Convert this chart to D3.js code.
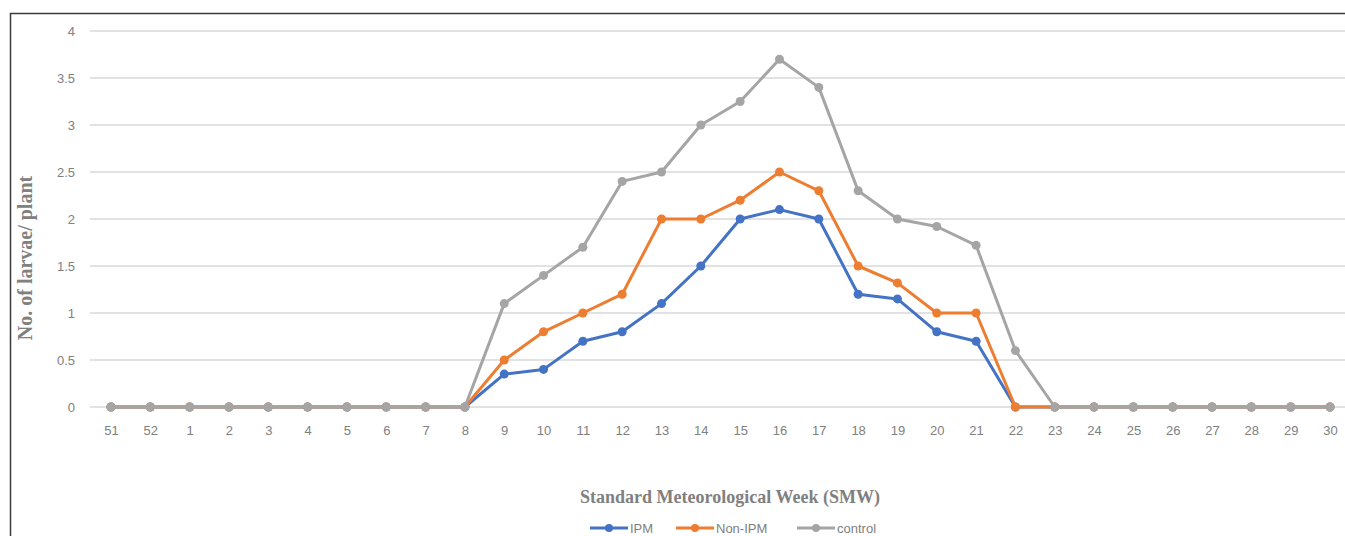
<!DOCTYPE html>
<html>
<head>
<meta charset="utf-8">
<script src="https://cdn.jsdelivr.net/npm/d3@7"></script>
<style>
  body { margin: 0; background: #fff; }
  #chart { width: 1345px; height: 536px; }
</style>
</head>
<body>
<div id="chart"></div>
<script>

// week labels
var weeks = ["51", "52", "1", "2", "3", "4", "5", "6", "7", "8", "9", "10", "11", "12", "13", "14",
    "15", "16", "17", "18", "19", "20", "21", "22", "23", "24", "25", "26", "27", "28", "29", "30"];

var ipm = [0, 0, 0, 0, 0, 0, 0, 0, 0, 0, 0.35, 0.4, 0.7, 0.8, 1.1, 1.5,
    2.0, 2.1, 2.0, 1.2, 1.15, 0.8, 0.7, 0, 0, 0, 0, 0, 0, 0, 0, 0];
var nonIpm = [0, 0, 0, 0, 0, 0, 0, 0, 0, 0, 0.5, 0.8, 1.0, 1.2, 2.0, 2.0,
    2.2, 2.5, 2.3, 1.5, 1.32, 1.0, 1.0, 0, 0, 0, 0, 0, 0, 0, 0, 0];
var control = [0, 0, 0, 0, 0, 0, 0, 0, 0, 0, 1.1, 1.4, 1.7, 2.4, 2.5, 3.0,
    3.25, 3.7, 3.4, 2.3, 2.0, 1.92, 1.72, 0.6, 0, 0, 0, 0, 0, 0, 0, 0];

var yTicks = [0, 0.5, 1, 1.5, 2, 2.5, 3, 3.5, 4];

var seriesNames = ["IPM", "Non-IPM", "control"];
var seriesColors = ["#4472c4", "#ed7d31", "#a5a5a5"];

var W = 1345, H = 536;

var svg = d3.select("#chart")
    .append("svg")
    .attr("width", W)
    .attr("height", H);

// outer frame (only left and top visible)
svg.append("path")
    .attr("d", "M10.5,536 L10.5,13.5 L1345,13.5")
    .attr("fill", "none")
    .attr("stroke", "#3a3a3a")
    .attr("stroke-width", 1.5);

// scales
var x = d3.scalePoint()
    .domain(weeks)
    .range([111, 1330]);

var y = d3.scaleLinear()
    .domain([0, 4])
    .range([407, 31]);

// gridlines
svg.append("g")
    .selectAll("line")
    .data(yTicks)
    .enter()
    .append("line")
    .attr("x1", 90)
    .attr("x2", 1345)
    .attr("y1", function (d) { return y(d); })
    .attr("y2", function (d) { return y(d); })
    .attr("stroke", "#d9d9d9")
    .attr("stroke-width", 1.5);

// y axis labels
var yaxis = svg.append("g")
    .attr("transform", "translate(80,0)")
    .call(d3.axisLeft(y).tickValues(yTicks).tickSize(0).tickPadding(5).tickFormat(d3.format("")));

yaxis.select(".domain").remove();
yaxis.selectAll("text")
    .style("fill", "#808080")
    .style("font", "13px 'Liberation Sans Narrow', 'Liberation Sans', sans-serif");

// x axis labels
var xaxis = svg.append("g")
    .attr("transform", "translate(0," + 420 + ")")
    .call(d3.axisBottom(x).tickSize(0).tickPadding(6));

xaxis.select(".domain").remove();
xaxis.selectAll("text")
    .style("fill", "#808080")
    .style("font", "13px 'Liberation Sans Narrow', 'Liberation Sans', sans-serif");

// lines (control drawn last, on top)
var allSeries = [ipm, nonIpm, control];

var line = d3.line()
    .x(function (d, i) { return x(weeks[i]); })
    .y(function (d) { return y(d); });

allSeries.forEach(function (data, k) {
    svg.append("path")
        .datum(data)
        .attr("fill", "none")
        .attr("stroke", seriesColors[k])
        .attr("stroke-width", 3)
        .attr("stroke-linejoin", "round")
        .attr("d", line);

    svg.append("g")
        .selectAll("circle")
        .data(data)
        .enter()
        .append("circle")
        .attr("cx", function (d, i) { return x(weeks[i]); })
        .attr("cy", function (d) { return y(d); })
        .attr("r", 4.5)
        .attr("fill", seriesColors[k]);
});

// y axis title
svg.append("text")
    .attr("transform", "translate(32,258) rotate(-90)")
    .attr("text-anchor", "middle")
    .style("font", "bold 20px 'Liberation Serif', 'Times New Roman', serif")
    .style("fill", "#808080")
    .text("No. of larvae/ plant");

// x axis title
svg.append("text")
    .attr("x", 730)
    .attr("y", 503)
    .attr("text-anchor", "middle")
    .style("font", "bold 18px 'Liberation Serif', 'Times New Roman', serif")
    .style("fill", "#808080")
    .text("Standard Meteorological Week (SMW)");

// legend
var legendX = [590, 676, 797];
var legend = svg.selectAll(".legend")
    .data(seriesNames)
    .enter()
    .append("g")
    .attr("class", "legend")
    .attr("transform", function (d, i) { return "translate(" + legendX[i] + ",528)"; });

legend.append("line")
    .attr("x1", 0)
    .attr("x2", 38)
    .attr("y1", 0)
    .attr("y2", 0)
    .attr("stroke", function (d, i) { return seriesColors[i]; })
    .attr("stroke-width", 3);

legend.append("circle")
    .attr("cx", 19)
    .attr("cy", 0)
    .attr("r", 4)
    .attr("fill", function (d, i) { return seriesColors[i]; });

legend.append("text")
    .attr("x", 40)
    .attr("y", 5)
    .style("font", "13px 'Liberation Sans Narrow', 'Liberation Sans', sans-serif")
    .style("fill", "#808080")
    .text(function (d) { return d; });

</script>
</body>
</html>
